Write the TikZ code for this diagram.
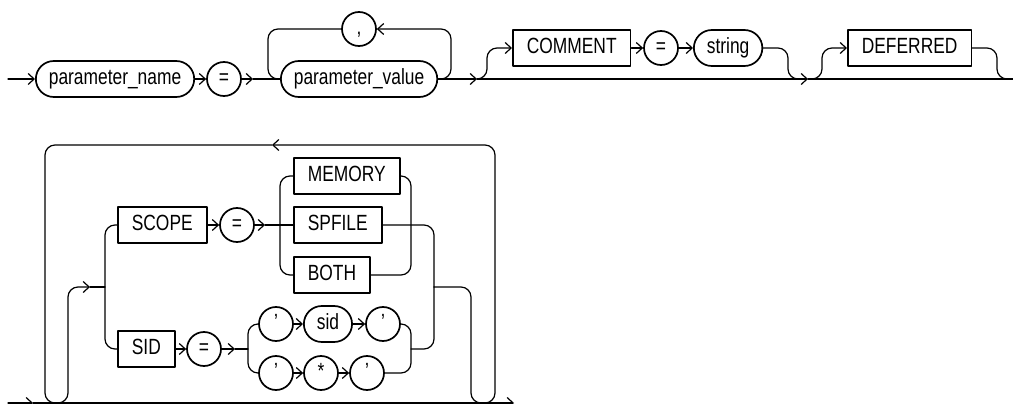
\documentclass[tikz,border=0pt]{standalone}
\usepackage{fontspec}
\setmainfont{Liberation Sans}[FakeStretch=0.79]
\usetikzlibrary{arrows.meta}

\begin{document}
\begin{tikzpicture}[x=1pt,y=-1pt,line cap=round,line join=round,>={Straight Barb[length=6pt,width=11pt]}]
\useasboundingbox[fill=white] (0,0) rectangle (1013,404);
\tikzset{rail/.style={draw,line width=1.2pt,rounded corners=10pt},
  kw/.style={draw,line width=1.7pt,minimum height=36pt,inner xsep=14pt,inner ysep=0pt,text height=16pt,text depth=4.5pt,font=\fontsize{22}{26}\selectfont},
  ph/.style={kw,rounded corners=18pt,inner xsep=13pt},
  sym/.style={kw,circle,minimum size=34pt,inner xsep=0pt}}
% first rail: name = value list, optional comment and deferred
\node[ph,anchor=west] (pname) at (35,79) {parameter\_name};
\node[sym] (eq1) at (224,79) {=};
\node[ph,anchor=west] (pval) at (280,79) {parameter\_value};
\node[sym] (comma) at (359,29) {,};
\node[kw,anchor=west] (cmt) at (512,48) {COMMENT};
\node[sym] (eq2) at (661,48) {=};
\node[ph,anchor=west] (str) at (693,48) {string};
\node[kw,anchor=west] (dfr) at (847,48) {DEFERRED};
\coordinate (in1) at (8,79); \coordinate (a1) at (253,79);
\coordinate (lr) at (451,29); \coordinate (ll) at (268,29);
\coordinate (b1) at (477,79); \coordinate (m2) at (798,79); \coordinate (b2) at (808,79);
\coordinate (m3) at (1007,79); \coordinate (out1) at (1013,79);
\draw[rail,->] (in1) -- (pname);
\draw[rail,->] (pname) -- (eq1);
\draw[rail,->] (eq1) -- (a1); \draw[rail] (a1) -- (pval);
\draw[rail,->] (pval.east) -| (lr) -- (comma);
\draw[rail] (comma) -- (ll) |- (pval.west);
\draw[rail,->] (pval.east) -- (b1); \draw[rail,->] (b1) -- (b2); \draw[rail] (b2) -- (out1);
\draw[rail,->] (b1) -- ++(10,0) |- (cmt);
\draw[rail,->] (cmt) -- (eq2);
\draw[rail,->] (eq2) -- (str);
\draw[rail] (str.east) -| ([xshift=-10pt]m2) -- (m2);
\draw[rail,->] (b2) -- ++(14,0) |- (dfr);
\draw[rail] (dfr.east) -| ([xshift=-10pt]m3) -- (m3);
% second rail: repeated scope / sid clauses
\node[kw,anchor=west] (scope) at (117,225) {SCOPE};
\node[sym] (eq3) at (237,225) {=};
\node[kw,anchor=west] (mem) at (293,176) {MEMORY};
\node[kw,anchor=west] (spf) at (293,225) {SPFILE};
\node[kw,anchor=west] (both) at (293,275) {BOTH};
\node[kw,anchor=west] (sidkw) at (117,349) {SID};
\node[sym] (eq4) at (204,349) {=};
\node[sym] (q1) at (276,324) {'};
\node[ph,anchor=west] (sidv) at (303,324) {sid};
\node[sym] (q2) at (383,324) {'};
\node[sym] (q3) at (276,373) {'};
\node[sym] (star) at (321,373) {*};
\node[sym] (q4) at (367,373) {'};
\coordinate (in2) at (8,403); \coordinate (a2) at (33,403); \coordinate (out2) at (514,403);
\coordinate (cbl) at (45,403); \coordinate (ctl) at (45,145); \coordinate (ta) at (272,145);
\coordinate (ctr) at (495,145); \coordinate (cbr) at (495,403);
\coordinate (u1) at (56,403); \coordinate (u2) at (57,403); \coordinate (cup) at (68,403);
\coordinate (ea) at (90,287); \coordinate (jl) at (105,287);
\coordinate (a3) at (265,225); \coordinate (jl2) at (280,225); \coordinate (jr2) at (411,225);
\coordinate (a4) at (235,349); \coordinate (jl3) at (248,349); \coordinate (jr4) at (411,349);
\coordinate (jr3) at (434,287); \coordinate (cdn) at (471,403);
\coordinate (u3) at (482,403); \coordinate (u4) at (484,403);
\draw[rail,->] (in2) -- (a2); \draw[rail,->] (a2) -- (out2);
\draw[rail,->] (u4) -- (cbr) -- (ctr) -- (ta);
\draw[rail] (ta) -- (ctl) -- (cbl) -- (u1);
\draw[rail,->] (u2) -- (cup) |- (ea); \draw[rail] (ea) -- (jl);
\draw[rail] (scope.west) -| (jl) |- (sidkw.west);
\draw[rail,->] (scope) -- (eq3);
\draw[rail,->] (eq3) -- (a3); \draw[rail] (a3) -- (spf);
\draw[rail] (mem.west) -| (jl2) |- (both.west);
\draw[rail] (mem.east) -| (jr2) |- (both.east);
\draw[rail] (spf.east) -| (jr3);
\draw[rail,->] (sidkw) -- (eq4);
\draw[rail,->] (eq4) -- (a4); \draw[rail] (a4) -- (jl3);
\draw[rail] (q1.west) -| (jl3) |- (q3.west);
\draw[rail] (q2.east) -| (jr4) |- (q4.east);
\draw[rail,->] (q1) -- (sidv); \draw[rail,->] (sidv) -- (q2);
\draw[rail,->] (q3) -- (star); \draw[rail,->] (star) -- (q4);
\draw[rail] (jr4) -| (jr3);
\draw[rail] (jr3) -| (cdn) -- (u3);
\end{tikzpicture}
\end{document}
